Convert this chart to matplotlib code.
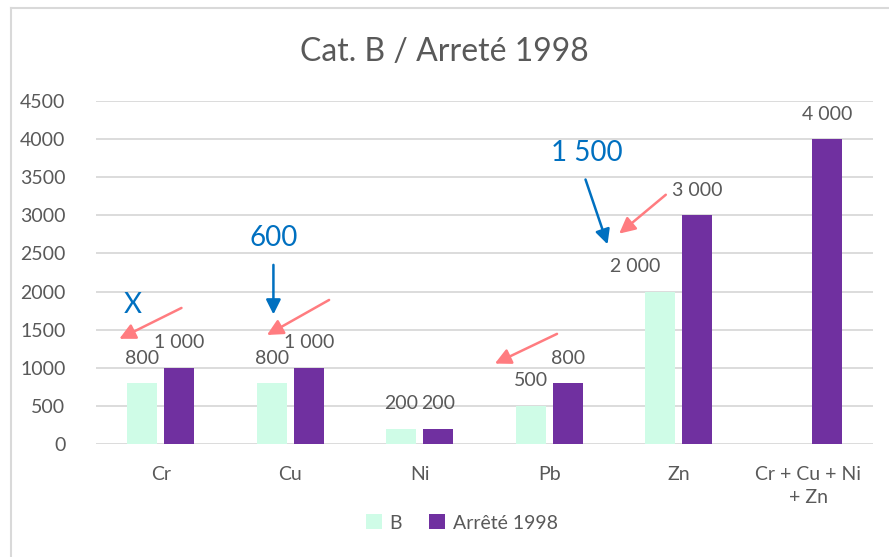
import matplotlib
matplotlib.use("Agg")
import matplotlib.pyplot as plt
from matplotlib.lines import Line2D
import numpy as np

plt.rcParams['font.family'] = ['Lato', 'DejaVu Sans']

categories = ["Cr", "Cu", "Ni", "Pb", "Zn", "Cr + Cu + Ni\n+ Zn"]
b_values = [800, 800, 200, 500, 2000, None]
arrete_values = [1000, 1000, 200, 800, 3000, 4000]
series_names = ["B", "Arrêté 1998"]
title = "Cat. B / Arreté 1998"
yticks = [0, 500, 1000, 1500, 2000, 2500, 3000, 3500, 4000, 4500]

# annotations (data coords): blue texts and arrows, pink arrows
blue_texts = [("X", -0.22, 1830), ("600", 0.87, 2700), ("1 500", 3.29, 3820)]
blue_arrows = [((0.87, 2350), (0.87, 1700)), ((3.28, 3470), (3.45, 2620))]
pink_arrows = [((0.16, 1785), (-0.32, 1380)), ((1.30, 1890), (0.82, 1430)),
               ((3.06, 1445), (2.58, 1055)), ((3.90, 3270), (3.54, 2760))]

TXT = "#595959"
C_B = "#CFFCE7"
C_A = "#7030A0"
BLUE = "#0070C0"
PINK = "#FF7C80"
FS = 14

def fmt(v):
    return f"{v:,}".replace(",", " ")

fig = plt.figure(figsize=(8.89, 5.57), dpi=100)
ax = fig.add_axes([96/889, 1-444/557, (873-96)/889, (444-101)/557])

x = np.arange(len(categories))
w = 0.23
off = 0.143
bx = [xi - off for xi, v in zip(x, b_values) if v is not None]
bv = [v for v in b_values if v is not None]
ax.bar(bx, bv, width=w, color=C_B, label=series_names[0], zorder=2)
ax.bar(x + off, arrete_values, width=w, color=C_A, label=series_names[1], zorder=2)

for xi, v in zip(bx, bv):
    dx = -18 if v == 2000 else 0
    ax.annotate(fmt(v), (xi, v), xytext=(dx, 18), textcoords="offset points",
                ha="center", va="center", fontsize=FS, color=TXT)
for xi, v in zip(x + off, arrete_values):
    ax.annotate(fmt(v), (xi, v), xytext=(0, 18), textcoords="offset points",
                ha="center", va="center", fontsize=FS, color=TXT)

ax.set_xlim(-0.5, len(categories) - 0.5)
ax.set_ylim(0, 4500)
ax.set_yticks(yticks)
ax.set_yticklabels([str(t) for t in yticks])
ax.set_xticks(x)
ax.set_xticklabels(categories, fontsize=FS, color=TXT, linespacing=1.4)
ax.tick_params(axis="y", labelsize=FS, labelcolor=TXT, length=0, pad=22)
ax.tick_params(axis="x", length=0, pad=16)
ax.grid(axis="y", color="#D9D9D9", lw=1.3, zorder=0)
for s in ax.spines.values():
    s.set_visible(False)

for t, xx, yy in blue_texts:
    ax.text(xx, yy, t, color=BLUE, fontsize=20, ha="center", va="center")
for (x0, y0), (x1, y1) in blue_arrows:
    ax.annotate("", xy=(x1, y1), xytext=(x0, y0),
                arrowprops=dict(arrowstyle="-|>", color=BLUE, lw=1.8, mutation_scale=22,
                                shrinkA=0, shrinkB=0))
for (x0, y0), (x1, y1) in pink_arrows:
    ax.annotate("", xy=(x1, y1), xytext=(x0, y0),
                arrowprops=dict(arrowstyle="-|>", color=PINK, lw=1.8, mutation_scale=24,
                                shrinkA=0, shrinkB=0))

fig.text(0.5, 1-52/557, title, ha="center", va="center", fontsize=23, color=TXT)

leg = fig.legend(loc="center", bbox_to_anchor=(462/889, 1-523/557), ncol=2, frameon=False,
                 fontsize=FS, handlelength=0.8, handleheight=0.8, handletextpad=0.4,
                 columnspacing=1.4)
for t in leg.get_texts():
    t.set_color(TXT)

fig.add_artist(Line2D([11/889, 11/889], [0, 1-8/557], color="#D9D9D9", lw=1.5))
fig.add_artist(Line2D([11/889, 1], [1-8/557, 1-8/557], color="#D9D9D9", lw=1.5))

fig.savefig("out.png", dpi=100)
